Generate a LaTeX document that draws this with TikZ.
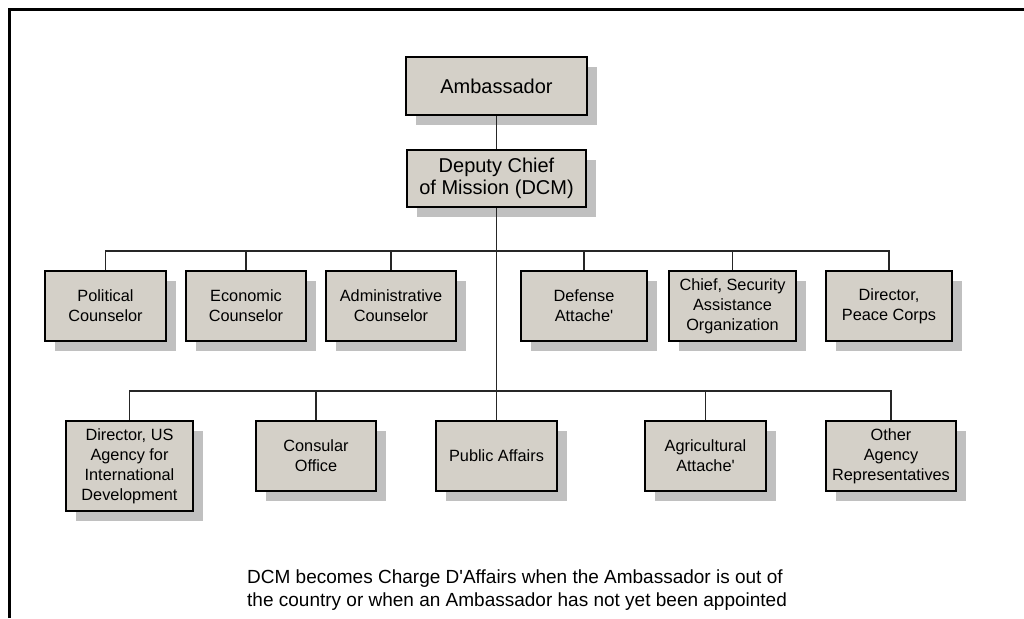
\documentclass[tikz,border=0pt]{standalone}
\usepackage{fontspec}
\setmainfont{Liberation Sans}
\usetikzlibrary{shadows}
\definecolor{boxgray}{RGB}{212,208,200}
\definecolor{shadegray}{RGB}{192,192,192}
\tikzset{
  post/.style={draw=black, fill=boxgray, line width=1.6pt, align=center, inner sep=2pt,
    general shadow={fill=shadegray, shadow xshift=10pt, shadow yshift=-10pt}},
  bigpost/.style={post, font=\fontsize{20}{22.5}\selectfont},
  smallpost/.style={post, font=\fontsize{16.3}{20}\selectfont, minimum height=70pt},
  link/.style={line width=1.6pt, draw=black!85},
  note/.style={align=left, inner sep=0pt, font=\fontsize{19}{23}\selectfont}
}
\begin{document}
\begin{tikzpicture}[x=1pt,y=-1pt]
\useasboundingbox (0,0) rectangle (1024,618);
\draw [line width=3pt] (9.5,618) -- (9.5,9.5) -- (1024,9.5);
% top of the chart
\node [bigpost, minimum width=181pt, minimum height=58pt] (amb) at (496.5,86) {Ambassador};
\node [bigpost, minimum width=179pt, minimum height=57pt] (dcm) at (496.5,178.5) {Deputy Chief\\of Mission (DCM)};
% first row
\node [smallpost, minimum width=121pt] (pol) at (105.5,306) {Political\\Counselor};
\node [smallpost, minimum width=120pt] (eco) at (246,306) {Economic\\Counselor};
\node [smallpost, minimum width=130pt] (adm) at (391,306) {Administrative\\Counselor};
\node [smallpost, minimum width=126pt] (def) at (584,306) {Defense\\Attache\textquotesingle};
\node [smallpost, minimum width=127pt] (sec) at (732.5,306) {Chief, Security\\Assistance\\Organization};
\node [smallpost, minimum width=126pt] (pc) at (889,306) {Director,\\Peace Corps};
% second row
\node [smallpost, minimum width=127pt, minimum height=90pt] (usa) at (129.5,466) {Director, US\\Agency for\\International\\Development};
\node [smallpost, minimum width=120pt] (con) at (316,456) {Consular\\Office};
\node [smallpost, minimum width=121pt] (pub) at (496.5,456) {Public Affairs};
\node [smallpost, minimum width=121pt] (agr) at (705.5,456) {Agricultural\\Attache\textquotesingle};
\node [smallpost, minimum width=130pt] (oth) at (891,456) {Other\\Agency\\Representatives};
% connectors
\coordinate (upbus) at (496.5,251);
\coordinate (lowbus) at (496.5,391);
\draw [link] (amb.south) -- (dcm.north);
\draw [link] (dcm.south) -- (pub.north);
\draw [link] (pol.north) |- (pc.north |- upbus) -- (pc.north);
\foreach \n in {eco,adm,def,sec}
  \draw [link] (\n.north) -- (\n.north |- upbus);
\draw [link] (usa.north) |- (oth.north |- lowbus) -- (oth.north);
\foreach \n in {con,agr}
  \draw [link] (\n.north) -- (\n.north |- lowbus);
% remark under the chart
\node [note, anchor=north west] (remark) at (247,570) {DCM becomes Charge D\textquotesingle Affairs when the Ambassador is out of\\the country or when an Ambassador has not yet been appointed};
\end{tikzpicture}
\end{document}
